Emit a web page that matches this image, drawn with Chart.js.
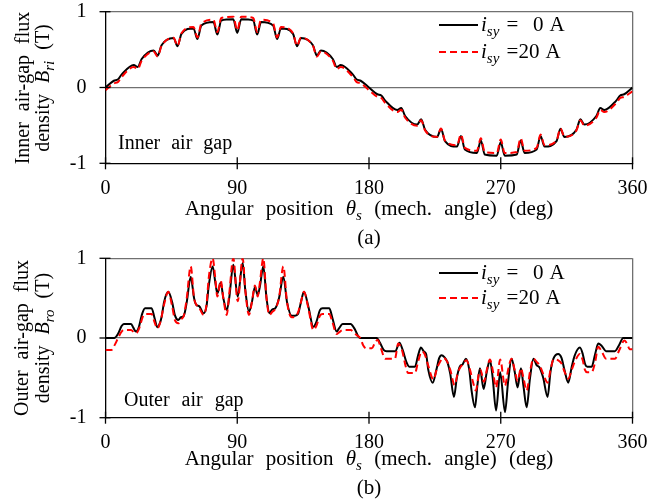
<!DOCTYPE html>
<html><head><meta charset="utf-8">
<script src="https://cdn.jsdelivr.net/npm/chart.js@4/dist/chart.umd.min.js"></script>
<style>
body{margin:0;background:#fff;}
#wrap{position:relative;width:651px;height:501px;overflow:hidden;font-family:"Liberation Serif","Times New Roman",serif;color:#000;background:#fff;}
canvas{position:absolute;left:0;}
.t{position:absolute;font-size:20px;line-height:20px;white-space:nowrap;}
.c{transform:translate(-50%,-50%);}
.r{transform:translate(-50%,-50%) rotate(-90deg);word-spacing:6px;}
.xt{font-size:21px;word-spacing:7px;}
.lg{font-size:21px;word-spacing:2px;}
sub{font-size:15px;vertical-align:-5px;line-height:0;word-spacing:0;}
.ls{position:absolute;width:39px;height:2px;}
</style></head><body>
<div id="wrap">
<canvas id="c1" width="651" height="250" style="top:0"></canvas>
<canvas id="c2" width="651" height="256" style="top:245px"></canvas>

<div class="t r" style="left:22px;top:87.5px">Inner air-gap flux</div>
<div class="t r" style="left:42px;top:87.5px">density <i>B</i><sub><i>ri</i></sub> (T)</div>
<div class="t c xt" style="left:369px;top:208px">Angular position <i>θ</i><sub><i>s</i></sub> (mech. angle) (deg)</div>
<div class="t c xt" style="left:369px;top:237px">(a)</div>
<div class="t" style="left:118px;top:132px;word-spacing:6px">Inner air gap</div>
<div class="ls" style="left:439px;top:24px;background:#000"></div>
<div class="t lg" style="left:481px;top:14px"><i>i</i><sub><i>sy</i></sub> = &nbsp;0 A</div>
<div class="ls" style="left:439px;top:51px;background:repeating-linear-gradient(to right,#ff0000 0 7px,transparent 7px 11px)"></div>
<div class="t lg" style="left:481px;top:41px"><i>i</i><sub><i>sy</i></sub> =20 A</div>

<div class="t r" style="left:21px;top:338px">Outer air-gap flux</div>
<div class="t r" style="left:42px;top:338px">density <i>B</i><sub><i>ro</i></sub> (T)</div>
<div class="t c xt" style="left:369px;top:458px">Angular position <i>θ</i><sub><i>s</i></sub> (mech. angle) (deg)</div>
<div class="t c xt" style="left:369px;top:487px">(b)</div>
<div class="t" style="left:124px;top:389px;word-spacing:7px">Outer air gap</div>
<div class="ls" style="left:439px;top:272px;background:#000"></div>
<div class="t lg" style="left:481px;top:262px"><i>i</i><sub><i>sy</i></sub> = &nbsp;0 A</div>
<div class="ls" style="left:439px;top:297px;background:repeating-linear-gradient(to right,#ff0000 0 7px,transparent 7px 11px)"></div>
<div class="t lg" style="left:481px;top:287px"><i>i</i><sub><i>sy</i></sub> =20 A</div>
</div>
<script>
// ---- data (angles in deg, flux density in T) ----
const xTicks = [0, 90, 180, 270, 360];
const yTicks = [-1, 0, 1];

const innerTheta = [0,5.7,8.4,11.1,19.3,22,24.7,32.9,35.6,38.3,46.5,49.2,51.9,60.1,62.8,65.5,73.7,76.4,79.1,87.3,90,92.7,100.9,103.6,106.3,114.5,117.2,119.9,128.1,130.8,133.5,141.7,144.4,147.1,155.3,158,160.7,168.9,171.6,174.3,180,185.7,188.4,191.1,199.3,202,204.7,212.9,215.6,218.3,226.5,229.2,231.9,240.1,242.8,245.5,253.7,256.4,259.1,267.3,270,272.7,280.9,283.6,286.3,294.5,297.2,299.9,308.1,310.8,313.5,321.7,324.4,327.1,335.3,338,340.7,348.9,351.6,354.3,360];
const innerB0 = [0,0.089,0.105,0.173,0.297,0.27,0.376,0.489,0.42,0.558,0.653,0.545,0.708,0.78,0.64,0.819,0.864,0.7,0.884,0.899,0.72,0.899,0.884,0.7,0.864,0.819,0.64,0.78,0.708,0.545,0.653,0.558,0.42,0.489,0.376,0.27,0.297,0.173,0.105,0.089,0,-0.089,-0.105,-0.173,-0.297,-0.27,-0.376,-0.489,-0.42,-0.558,-0.653,-0.545,-0.708,-0.78,-0.64,-0.819,-0.864,-0.7,-0.884,-0.899,-0.72,-0.899,-0.884,-0.7,-0.864,-0.819,-0.64,-0.78,-0.708,-0.545,-0.653,-0.558,-0.42,-0.489,-0.376,-0.27,-0.297,-0.173,-0.105,-0.089,0];
const innerB20 = [-0.035,0.055,0.071,0.141,0.27,0.245,0.353,0.475,0.409,0.55,0.655,0.55,0.716,0.798,0.66,0.842,0.894,0.731,0.916,0.934,0.755,0.934,0.916,0.731,0.894,0.842,0.66,0.798,0.716,0.55,0.655,0.55,0.409,0.475,0.353,0.245,0.27,0.141,0.071,0.055,-0.035,-0.123,-0.139,-0.205,-0.324,-0.295,-0.399,-0.503,-0.431,-0.566,-0.651,-0.54,-0.7,-0.762,-0.62,-0.796,-0.834,-0.669,-0.852,-0.864,-0.685,-0.864,-0.852,-0.669,-0.834,-0.796,-0.62,-0.762,-0.7,-0.54,-0.651,-0.566,-0.431,-0.503,-0.399,-0.295,-0.324,-0.205,-0.139,-0.123,-0.05];

const outerTheta0 = [0,6,8.5,11,12.5,17.5,19,20.8,22.5,25,27,31.5,33.5,35.4,37,38.5,40,42.9,45.5,47.5,49.7,51.5,53.5,55.5,58.2,60.5,62,64,67,69,70.5,73.2,75,76.4,78.7,80.5,82.8,84.5,87.3,90.3,93.7,95.5,98,100,102.1,104,105.5,107.8,110,111.9,114,115.8,118.5,121.5,124,127.2,129.5,131.5,133.5,135.6,138.5,142,144,146.5,148.3,152.9,155,157.9,159.5,162,167.5,170,173.8,185.2,187.5,190,192,198,200.8,203,205.5,207.5,211.4,213.5,215.5,217.5,219,220.5,223.5,226,228,229.6,231.5,233.5,235.5,238,240,242,244,246.2,248.5,250,252.4,254,255.8,258.3,260.5,262.6,264.5,266.8,269.6,272.9,275,277.4,279.5,281.5,283.8,285.5,287.7,290,292.3,294.5,296.5,299,302,304,306,309.3,311.5,313.5,316.1,318.5,320.5,324.1,326,327.5,329.1,332.1,334.5,336.6,339,341.9,348,350.5,353.7,360];
const outerB0 = [0,0,0.05,0.15,0.176,0.176,0.13,0.08,0.12,0.3,0.373,0.373,0.25,0.135,0.18,0.28,0.45,0.58,0.45,0.28,0.226,0.26,0.28,0.45,0.77,0.5,0.415,0.4,0.31,0.4,0.65,0.897,0.7,0.56,0.695,0.5,0.35,0.5,0.918,0.52,0.94,0.6,0.33,0.45,0.64,0.54,0.65,0.9,0.5,0.31,0.36,0.37,0.5,0.77,0.45,0.28,0.28,0.3,0.45,0.58,0.4,0.14,0.2,0.35,0.373,0.373,0.25,0.08,0.12,0.176,0.176,0.12,0,0,-0.06,-0.15,-0.165,-0.165,-0.06,-0.15,-0.3,-0.36,-0.36,-0.22,-0.12,-0.17,-0.2,-0.4,-0.56,-0.4,-0.25,-0.215,-0.24,-0.3,-0.45,-0.74,-0.5,-0.36,-0.33,-0.26,-0.4,-0.65,-0.87,-0.6,-0.38,-0.64,-0.42,-0.28,-0.5,-0.91,-0.43,-0.93,-0.55,-0.26,-0.42,-0.62,-0.38,-0.6,-0.87,-0.5,-0.26,-0.34,-0.37,-0.5,-0.74,-0.42,-0.26,-0.2,-0.25,-0.4,-0.56,-0.36,-0.22,-0.12,-0.2,-0.32,-0.36,-0.36,-0.2,-0.07,-0.1,-0.165,-0.165,-0.1,0,0];

const outerTheta20 = [0,4,6.5,8.6,11,12.5,17.5,19.5,21,23,25.5,27,31.5,33.5,35.4,37.5,40,42.9,45.5,47.5,49.7,52,53.5,55.5,58.2,60.5,62,64,67,69,70.5,73.2,75,76.4,78.7,80.5,82.8,84.5,87.3,90.3,93.7,95.5,98,100,102.1,104,105.5,107.8,110,111.9,114,115.8,118.5,121.5,124,127.2,129.5,131.5,133.5,135.6,138.5,142,144,146.5,148.3,152.9,155,157.9,159.5,162,167.5,170,172,174,176,178,180,182,184,185.9,188,190.5,191.5,197.7,200,202.5,205,206.7,211.4,213.5,216,218,220.5,224,226.5,228.5,231,233.5,235.5,238.5,240.5,242,244,246.5,249,251,253,255,256.2,258.5,260.5,262.6,264.5,266.8,269.6,272.9,275,277.4,279.5,281.5,283.8,285.5,287.7,290,292.3,294.5,296.5,299,302,304,306,309.3,311.5,313.5,316.1,318.5,320.5,324.1,326,327.5,329.1,332.1,334.5,336.6,339,341.9,348,351,354.5,356.5,358,360];
const outerB20 = [-0.15,-0.15,-0.08,0,0.08,0.1,0.1,0.07,0.06,0.12,0.27,0.3,0.3,0.2,0.12,0.2,0.42,0.58,0.4,0.22,0.185,0.24,0.28,0.5,0.9,0.5,0.42,0.38,0.29,0.42,0.75,1,0.75,0.52,0.72,0.5,0.29,0.55,1,0.46,1,0.6,0.29,0.45,0.66,0.52,0.7,1,0.5,0.29,0.33,0.36,0.5,0.9,0.45,0.26,0.27,0.32,0.45,0.58,0.38,0.1,0.15,0.28,0.3,0.3,0.2,0.05,0.07,0.1,0.1,0.06,0.03,0,-0.09,-0.13,-0.13,-0.13,-0.06,-0.025,-0.12,-0.25,-0.26,-0.26,-0.07,-0.15,-0.35,-0.44,-0.44,-0.3,-0.17,-0.2,-0.35,-0.52,-0.38,-0.3,-0.25,-0.3,-0.4,-0.59,-0.45,-0.38,-0.33,-0.28,-0.4,-0.55,-0.66,-0.45,-0.4,-0.55,-0.4,-0.27,-0.4,-0.62,-0.27,-0.6,-0.4,-0.26,-0.4,-0.54,-0.38,-0.5,-0.66,-0.42,-0.26,-0.3,-0.34,-0.45,-0.56,-0.4,-0.27,-0.28,-0.32,-0.42,-0.51,-0.4,-0.3,-0.2,-0.28,-0.4,-0.43,-0.43,-0.3,-0.11,-0.17,-0.26,-0.26,-0.15,-0.03,-0.08,-0.14,-0.14];

// ---- drawing ----
const FONT = {family: '"Liberation Serif","Times New Roman",serif', size: 20};
const FRAME = '#707070';

const crossTicks = {
  id: 'crossTicks',
  afterDraw(chart) {
    const {ctx, scales: {x, y}, chartArea: a} = chart;
    ctx.save();
    ctx.strokeStyle = '#000';
    ctx.lineWidth = 1.3;
    xTicks.forEach(v => {
      const px = x.getPixelForValue(v);
      ctx.beginPath(); ctx.moveTo(px, a.bottom - 6); ctx.lineTo(px, a.bottom + 6); ctx.stroke();
    });
    yTicks.forEach(v => {
      const py = y.getPixelForValue(v);
      ctx.beginPath(); ctx.moveTo(a.left - 6, py); ctx.lineTo(a.left + 5, py); ctx.stroke();
    });
    ctx.restore();
  }
};

function pts(xs, ys) { return xs.map((t, i) => ({x: t, y: ys[i]})); }
function noPad(s) { s.paddingTop = 0; s.paddingBottom = 0; s.paddingLeft = 0; s.paddingRight = 0; }

// box = plot-area rectangle inside the canvas
function makeChart(id, th0, b0, th20, b20, box, canvasH) {
  return new Chart(document.getElementById(id), {
    type: 'line',
    data: {
      datasets: [
        {label: 'i_sy = 20 A', data: pts(th20, b20), borderColor: '#ff0000', borderWidth: 2,
         borderDash: [7, 4], pointRadius: 0, cubicInterpolationMode: 'monotone', order: 0},
        {label: 'i_sy = 0 A', data: pts(th0, b0), borderColor: '#000000', borderWidth: 2,
         pointRadius: 0, cubicInterpolationMode: 'monotone', order: 1}
      ]
    },
    options: {
      responsive: false, animation: false, events: [],
      layout: {autoPadding: false, padding: {top: box.top, right: 651 - box.right, left: 0, bottom: 0}},
      plugins: {legend: {display: false}, tooltip: {enabled: false}},
      scales: {
        x: {
          type: 'linear', min: 0, max: 360,
          afterBuildTicks(s) { s.ticks = xTicks.map(v => ({value: v})); },
          ticks: {font: FONT, color: '#000', padding: 13, maxRotation: 0, autoSkip: false},
          grid: {drawTicks: false, lineWidth: 1.3,
                 color: c => (c.tick && c.tick.value === 360) ? FRAME : 'rgba(0,0,0,0)'},
          border: {color: '#000', width: 1.3},
          afterFit(s) { s.height = canvasH - box.bottom; noPad(s); }
        },
        y: {
          type: 'linear', min: -1, max: 1,
          afterBuildTicks(s) { s.ticks = yTicks.map(v => ({value: v})); },
          ticks: {font: FONT, color: '#000', padding: 19},
          grid: {drawTicks: false, lineWidth: 1.3,
                 color: c => (c.tick && (c.tick.value === 0 || c.tick.value === 1)) ? FRAME : 'rgba(0,0,0,0)'},
          border: {color: '#000', width: 1.3},
          afterFit(s) { s.width = box.left; noPad(s); }
        }
      }
    },
    plugins: [crossTicks]
  });
}

makeChart('c1', innerTheta, innerB0, innerTheta, innerB20, {left: 105.5, right: 632.5, top: 11.7, bottom: 163.3}, 250);
makeChart('c2', outerTheta0, outerB0, outerTheta20, outerB20, {left: 105.5, right: 632.5, top: 13.3, bottom: 172.7}, 256);
</script>
</body></html>
